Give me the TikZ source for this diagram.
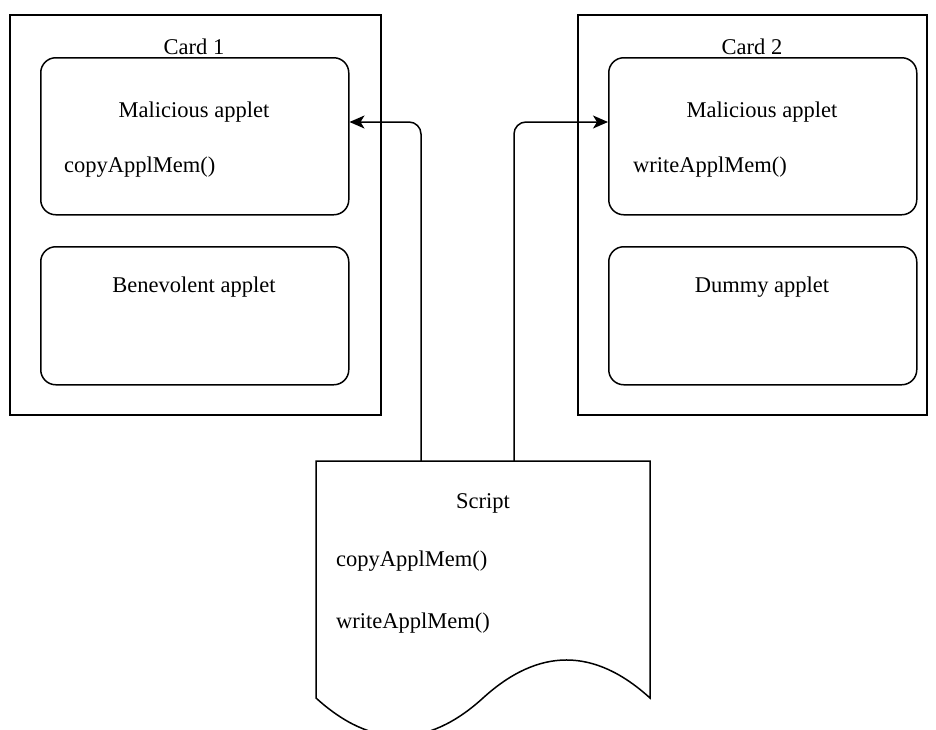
\documentclass[tikz,border=0pt]{standalone}
\usepackage{fontspec}
\setmainfont{Liberation Serif}
\usetikzlibrary{arrows.meta}
\begin{document}
\begin{tikzpicture}[x=1pt,y=-1pt,
  card/.style={draw,line width=1.5pt,rectangle},
  applet/.style={draw,line width=1.5pt,rounded corners=15pt},
  lbl/.style={font=\fontsize{22.5}{27}\selectfont,inner sep=0pt},
  conn/.style={line width=1.5pt,rounded corners=12pt,-{Stealth[length=15pt,width=13pt,inset=4pt]}}]
\useasboundingbox (0,0) rectangle (936,729);
\clip (0,0) rectangle (936,729);
% cards
\node[card,minimum width=371pt,minimum height=400pt,anchor=north west] (card1) at (9,14) {};
\node[card,minimum width=349pt,minimum height=400pt,anchor=north west] (card2) at (577,14) {};
\node[lbl] (c1t) at (194,47) {Card 1};
\node[lbl] (c2t) at (752,47) {Card 2};
% applets
\node[applet,minimum width=308pt,minimum height=157pt,anchor=north west] (mal1) at (40,57) {};
\node[applet,minimum width=308pt,minimum height=138pt,anchor=north west] (ben) at (40,246) {};
\node[applet,minimum width=308pt,minimum height=157pt,anchor=north west] (mal2) at (608,57) {};
\node[applet,minimum width=308pt,minimum height=138pt,anchor=north west] (dum) at (608,246) {};
\node[lbl] (m1t) at (194,112) {Malicious applet};
\node[lbl,anchor=west] (m1f) at (64,167) {copyApplMem()};
\node[lbl] (bt) at (194,287) {Benevolent applet};
\node[lbl] (m2t) at (762,112) {Malicious applet};
\node[lbl,anchor=west] (m2f) at (633,167) {writeApplMem()};
\node[lbl] (dt) at (762,287) {Dummy applet};
% script document
\draw[line width=1.5pt] (316,461) -- (650,461) -- (650,698)
  .. controls (594.3,647.3) and (538.7,647.3) .. (483,698)
  .. controls (427.3,748.7) and (371.7,748.7) .. (316,698) -- cycle;
\coordinate (s1) at (421,461);
\coordinate (s2) at (514,461);
\node[lbl] (st) at (483,503) {Script};
\node[lbl,anchor=west] (sf1) at (336,561) {copyApplMem()};
\node[lbl,anchor=west] (sf2) at (336,623) {writeApplMem()};
% connectors
\draw[conn] (s1) |- (mal1.east |- 0,122);
\draw[conn] (s2) |- (mal2.west |- 0,122);
\end{tikzpicture}
\end{document}
